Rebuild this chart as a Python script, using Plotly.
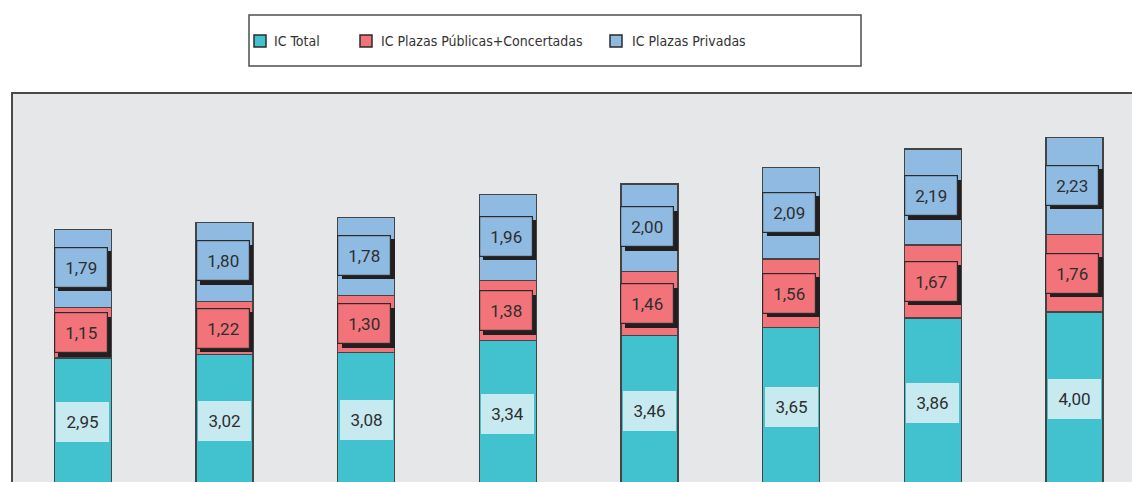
import plotly.graph_objects as go

# Series values per period (stacked bottom to top)
categories = ["P1", "P2", "P3", "P4", "P5", "P6", "P7", "P8"]
ic_total = [2.95, 3.02, 3.08, 3.34, 3.46, 3.65, 3.86, 4.00]
ic_publicas = [1.15, 1.22, 1.30, 1.38, 1.46, 1.56, 1.67, 1.76]
ic_privadas = [1.79, 1.80, 1.78, 1.96, 2.00, 2.09, 2.19, 2.23]

series_names = ["IC Total", "IC Plazas Públicas+Concertadas", "IC Plazas Privadas"]
series_colors = ["#42c2ce", "#f3737b", "#8fbbe3"]

W, H = 1132, 482
ML, MT = 12, 93
PW, PH = W - ML, H - MT


def px_x(p):
    return (p - ML) / PW


def px_y(p):
    return (H - p) / PH


def fmt(v):
    return f"{v:.2f}".replace(".", ",")


fig = go.Figure()
for name, vals, col in zip(series_names, [ic_total, ic_publicas, ic_privadas], series_colors):
    fig.add_trace(go.Bar(
        x=categories, y=vals, name=name, width=0.402,
        marker=dict(color=col, line=dict(color="#444444", width=1.3)),
        showlegend=False,
    ))

num_font = dict(family="Roboto, Arial, sans-serif", size=17, color="#2e2e2e")
annotations = []
for i, cat in enumerate(categories):
    t, p, v = ic_total[i], ic_publicas[i], ic_privadas[i]
    # value label on the bottom segment
    annotations.append(dict(
        x=i, y=t / 2, text=fmt(t), showarrow=False, font=num_font,
        bgcolor="#c7e9f0", width=53, height=40, borderpad=0, borderwidth=0,
    ))
    # boxed labels with a drop shadow on the upper two segments
    for yc, val, col, ys in [(t + p / 2, p, series_colors[1], 0),
                             (t + p + v / 2, v, series_colors[2], 1)]:
        annotations.append(dict(
            x=i, y=yc, text=" ", showarrow=False, bgcolor="#231f20",
            width=53, height=40, borderpad=0, borderwidth=0,
            xshift=2, yshift=ys - 4,
        ))
        annotations.append(dict(
            x=i, y=yc, text=fmt(val), showarrow=False, font=num_font,
            bgcolor=col, bordercolor="#2b2b2b", borderwidth=1.2, borderpad=0,
            width=52, height=39, xshift=-2, yshift=ys,
        ))

# legend drawn as a framed row of swatches and labels
shapes = [
    dict(type="rect", xref="paper", yref="paper", layer="below",
         x0=0, x1=1.2, y0=-0.2, y1=1, line=dict(color="#4a4a4a", width=2)),
    dict(type="rect", xref="paper", yref="paper",
         x0=px_x(249), x1=px_x(861), y0=px_y(66), y1=px_y(15),
         fillcolor="white", line=dict(color="#4d4d4d", width=1.5)),
]
legend_font = dict(family="DejaVu Sans Condensed, Roboto, sans-serif",
                   size=14, color="#333333")
for name, col, mx, tx in zip(series_names, series_colors, [260, 366, 616], [272, 379, 630]):
    shapes.append(dict(type="rect", xref="paper", yref="paper",
                       x0=px_x(mx - 6), x1=px_x(mx + 6), y0=px_y(47), y1=px_y(35),
                       fillcolor=col, line=dict(color="#2b2b2b", width=1.5)))
    annotations.append(dict(xref="paper", yref="paper", x=px_x(tx), y=px_y(41),
                            xanchor="left", yanchor="middle", text=name,
                            showarrow=False, font=legend_font))

fig.update_layout(
    width=W, height=H, barmode="stack",
    margin=dict(l=ML, r=0, t=MT, b=0, pad=0),
    paper_bgcolor="white", plot_bgcolor="#e6e7e9",
    xaxis=dict(type="category", range=[-0.5, 7.406], showticklabels=False,
               showgrid=False, zeroline=False, ticks=""),
    yaxis=dict(range=[0.114, 9.0], showticklabels=False, showgrid=False,
               zeroline=False, ticks=""),
    shapes=shapes, annotations=annotations, showlegend=False,
)

fig.write_html("out.html")
